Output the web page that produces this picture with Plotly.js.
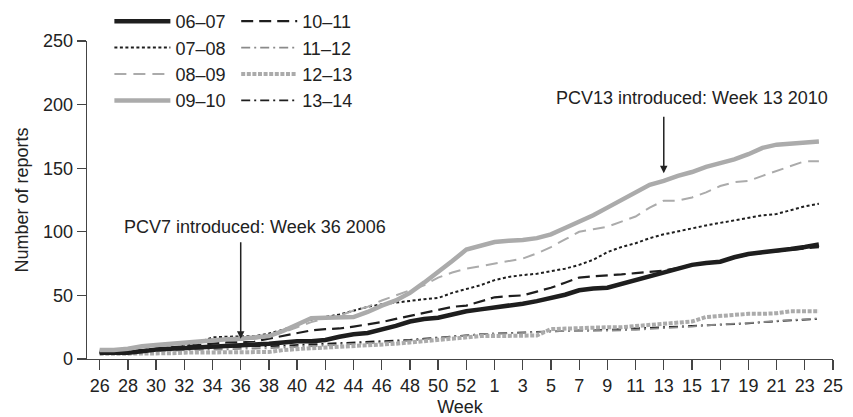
<!DOCTYPE html>
<html>
<head>
<meta charset="utf-8">
<script src="https://cdn.plot.ly/plotly-3.0.1.min.js"></script>
<style>html,body{margin:0;padding:0;background:#fff;}#chart{width:853px;height:417px;}</style>
</head>
<body>
<div id="chart"></div>
<script>
// Week positions: 26..53 then 1..24 (index 0..51); ticks every 2 positions
const weekLabels = ["26","27","28","29","30","31","32","33","34","35","36","37","38","39","40","41","42","43","44","45","46","47","48","49","50","51","52","53","1","2","3","4","5","6","7","8","9","10","11","12","13","14","15","16","17","18","19","20","21","22","23","24"];
const tickLabels = ["26","28","30","32","34","36","38","40","42","44","46","48","50","52","1","3","5","7","9","11","13","15","17","19","21","23","25"];

const s0607 = [5,5,5,6,7.5,8,8.5,9,10,10,11,11.5,12,13,14,14,15,17.5,19.5,20.5,23,26,29.5,31.5,32.5,35,37.5,39,40.5,41.5,43.5,45.5,48,50.5,54,55.5,56,59,62.5,65.5,68,71,74,75.5,76.5,80,82.5,84,85,86.5,88,90];
const s0708 = [5,5,6,7,8,9,10,13,17,17.5,18,18,20,23,27,31,33,35,38,41,43,44.5,46,47,48,52,55,58,62,64.5,66,67,69,71,74,78,84,88,91,95,98,100.5,103,105,107,109,111,113,114,117,120,122];
const s0809 = [7,7,8,9,10,11,12,13,14,15,15,16,18,21,25,29,32,34,38,41,46,50,54,58,64,68,71,73,75,77,79,83,88,94,100,102,104,108,112,119,124.5,124.5,127,131,136,139,140,144,148,152,155.5,155.5];
const s0910 = [7,7,8,10,11,12,13,14,15,15.5,16,17,18,22,27,32,32.5,32.5,33,37,42,46,52,60,68,77,86,89,92,93,93.5,95,98,103,108,113,119,125,131,137,140,144,147,151,154,157,161,166,168.5,169.5,170,171];
const s1011 = [5,5,6,7,8,9,10,11,12,13,13,14,16,18,20.5,22.5,23.5,24,25.5,27,29,31.5,34,36,38.5,41,42,45,48.5,49.5,50,53,56,60,64,65,65.5,66.5,67.5,68.5,69.5,71.5,74,75.5,76.5,79.5,82,83.5,84.5,86,87,88];
const s1112 = [5,5,5,6,6,6.5,7,7,7,7.5,8,8,8.5,9,9.5,10,10.5,11,11.5,12,12.5,13.5,14.5,15.5,17,18,19,19.5,20,20,20.5,21,22,22,22,22,22,22.5,23,23.5,24,25,25.5,26.5,27,28,28.5,29,30,30.5,31,32];
const s1213 = [4,4,4,4,4.5,4.5,5,5,5,5,5,5,5.5,7,8,8.5,9,9.5,10,10.5,11,12,13,14,15,16.5,17.5,18,18,18,18,18.5,23.5,24,24,24.5,25,25,26,26.5,27.5,28.5,29.5,33,34,35,35.5,35.5,36,37.5,37.5,37.5];
const s1314 = [5,5,6,6.5,7,7.5,8,8.5,9,9,9.5,10,10,10.5,11,11,11.5,12,12.5,13,13.5,14,15,16,17,18,19,19.5,20,20.5,21,21.5,22,22,22.5,22.5,23,23,23.5,24,24.5,25,26,26.5,27,27.5,28,29,29.5,30,31,31.5];

const xIdx = weekLabels.map((w, i) => i);
const tickVals = tickLabels.map((t, i) => i * 2);

const BLACK = "#1e1e1e", LGRAY = "#ababab", MGRAY = "#8a8a8a";
function tr(name, y, color, width, dash, legend) {
  return {x: xIdx, y: y, name: name, type: "scatter", mode: "lines",
    line: {color: color, width: width, dash: dash}, legend: legend,
    text: weekLabels, hoverinfo: "text+y+name"};
}
const data = [
  tr("13–14", s1314, BLACK, 1.8, "9px,4px,2px,4px", "legend2"),
  tr("11–12", s1112, MGRAY, 1.8, "9px,4px,2px,4px", "legend2"),
  tr("12–13", s1213, LGRAY, 4, "4px,1.6px", "legend2"),
  tr("10–11", s1011, BLACK, 2.2, "12px,6px", "legend2"),
  tr("07–08", s0708, BLACK, 2, "3px,2.5px", "legend"),
  tr("08–09", s0809, LGRAY, 2, "12px,7px", "legend"),
  tr("06–07", s0607, BLACK, 4.5, "solid", "legend"),
  tr("09–10", s0910, LGRAY, 4.5, "solid", "legend")
];
const order1 = ["06–07","07–08","08–09","09–10"];
const order2 = ["10–11","11–12","12–13","13–14"];
data.forEach(d => {
  const i1 = order1.indexOf(d.name), i2 = order2.indexOf(d.name);
  d.legendrank = (i1 >= 0 ? i1 : i2) + 1;
});

const FONT = {family: "Liberation Sans, Arial, sans-serif", size: 18, color: "#222"};
const layout = {
  width: 853, height: 417,
  margin: {l: 87, r: 20, t: 41, b: 58, autoexpand: false},
  paper_bgcolor: "#fff", plot_bgcolor: "#fff",
  font: FONT,
  showlegend: true,
  xaxis: {
    range: [-0.9, 52], tickmode: "array", tickvals: tickVals, ticktext: tickLabels,
    showline: true, linecolor: "#444", linewidth: 1.3, ticks: "outside", ticklen: 10,
    tickcolor: "#444", tickwidth: 1.3, showgrid: false, zeroline: false, automargin: false,
    tickfont: FONT, title: {text: "Week", font: FONT, standoff: 7}
  },
  yaxis: {
    range: [0, 250], tickmode: "array", tickvals: [0,50,100,150,200,250],
    showline: true, linecolor: "#444", linewidth: 1.3, ticks: "outside", ticklen: 9,
    tickcolor: "#444", tickwidth: 1.3, showgrid: false, zeroline: false, automargin: false,
    tickfont: FONT, title: {text: "Number of reports", font: FONT, standoff: 9}
  },
  legend: {x: 0.03, y: 1.1195, xanchor: "left", yanchor: "top",
    orientation: "v", itemwidth: 56, font: FONT, bgcolor: "rgba(0,0,0,0)", traceorder: "normal", tracegroupgap: 0},
  legend2: {x: 0.2, y: 1.1195, xanchor: "left", yanchor: "top",
    orientation: "v", itemwidth: 56, font: FONT, bgcolor: "rgba(0,0,0,0)", traceorder: "normal", tracegroupgap: 0},
  annotations: [
    {x: 11.04, y: 104, xref: "x", yref: "y", text: "PCV7 introduced: Week 36 2006",
     showarrow: false, font: FONT},
    {x: 10, y: 16, xref: "x", yref: "y", ax: 10, ay: 93, axref: "x", ayref: "y",
     text: "", showarrow: true, arrowhead: 2, arrowsize: 1, arrowwidth: 1.5, arrowcolor: "#222"},
    {x: 42.0, y: 205, xref: "x", yref: "y", text: "PCV13 introduced: Week 13 2010",
     showarrow: false, font: FONT},
    {x: 40, y: 146, xref: "x", yref: "y", ax: 40, ay: 191.6, axref: "x", ayref: "y",
     text: "", showarrow: true, arrowhead: 2, arrowsize: 1, arrowwidth: 1.5, arrowcolor: "#222"}
  ]
};
Plotly.newPlot("chart", data, layout, {displayModeBar: false, staticPlot: true});
</script>
</body>
</html>
